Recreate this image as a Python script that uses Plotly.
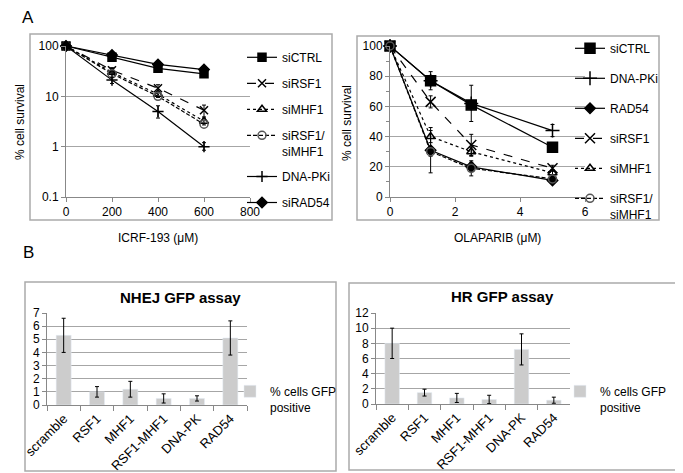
import plotly.graph_objects as go

# ICRF-193 survival (log scale)
icrf_dose = [0, 200, 400, 600]
icrf_ctrl = [100, 60, 36, 28]
icrf_rsf1 = [100, 33, 14.5, 5.3]
icrf_rsf1_err = [0, 4, 2.5, 1.4]
icrf_mhf1 = [100, 30, 11, 3.2]
icrf_mhf1_err = [0, 3, 1.5, 0.5]
icrf_rsf1_mhf1 = [100, 28, 10, 2.8]
icrf_dnapki = [100, 21, 5, 1.0]
icrf_dnapki_up = [0, 3, 1.5, 0.2]
icrf_dnapki_dn = [0, 3, 1.3, 0.15]
icrf_rad54 = [100, 66, 43, 34]

# Olaparib survival
ola_dose = [0, 1.25, 2.5, 5]
ola_ctrl = [100, 77, 61, 33]
ola_dnapki = [100, 77, 62, 44]
ola_dnapki_err = [0, 6, 12, 4]
ola_rad54 = [100, 31, 20, 11]
ola_rad54_err = [0, 15, 3, 1]
ola_rsf1 = [100, 63, 34.5, 19]
ola_rsf1_err = [0, 4, 7, 2]
ola_mhf1 = [100, 40, 30, 16]
ola_mhf1_err = [0, 4, 3, 2]
ola_rsf1_mhf1 = [100, 30, 19, 12]
ola_rsf1_mhf1_err = [0, 3, 5, 1]

# GFP reporter assays
samples = ["scramble", "RSF1", "MHF1", "RSF1-MHF1", "DNA-PK", "RAD54"]
nhej = [5.3, 1.0, 1.2, 0.5, 0.5, 5.1]
nhej_err = [1.3, 0.4, 0.6, 0.35, 0.2, 1.3]
hr = [8.0, 1.5, 0.8, 0.6, 7.2, 0.5]
hr_err = [2.0, 0.45, 0.6, 0.55, 2.05, 0.4]

# page body has an 8px margin, so the figure is drawn 8px in from the corner
OFF = 8
W, H = 683 - OFF, 473 - OFF
FONT = "Liberation Sans, Arial, sans-serif"
GRID = "#a6a6a6"


def px_x(v):
    return (v - OFF) / W


def px_y(v):
    return 1 - (v - OFF) / H


def err(vals, minus=None):
    d = dict(type="data", array=vals, color="black", thickness=1, width=2)
    if minus is not None:
        d["arrayminus"] = minus
    return d


def line(x, y, name, symbol, dash, xa, ya, leg, error=None, mcolor="black", size=8):
    return go.Scatter(
        x=x, y=y, name=name, mode="lines+markers",
        line=dict(color="black", width=1.2, dash=dash),
        marker=dict(symbol=symbol, size=size, color=mcolor,
                    line=dict(color=mcolor, width=1.5)),
        error_y=error, xaxis=xa, yaxis=ya, legend=leg, legendgroup=name + leg,
        cliponaxis=False,
    )


fig = go.Figure()

# panel A left
fig.add_trace(line(icrf_dose, icrf_ctrl, "siCTRL", "square", "solid", "x", "y", "legend"))
fig.add_trace(line(icrf_dose, icrf_rsf1, "siRSF1", "x-thin-open", "dash", "x", "y", "legend",
                   err(icrf_rsf1_err)))
fig.add_trace(line(icrf_dose, icrf_mhf1, "siMHF1", "triangle-up-open", "dot", "x", "y", "legend",
                   err(icrf_mhf1_err)))
fig.add_trace(line(icrf_dose, icrf_rsf1_mhf1, "siRSF1/<br>siMHF1", "circle-open", "4px,2px", "x", "y",
                   "legend", mcolor="#555555"))
fig.add_trace(line(icrf_dose, icrf_dnapki, "DNA-PKi", "cross-thin-open", "solid", "x", "y", "legend",
                   err(icrf_dnapki_up, icrf_dnapki_dn)))
fig.add_trace(line(icrf_dose, icrf_rad54, "siRAD54", "diamond", "solid", "x", "y", "legend"))

# panel A right
fig.add_trace(line(ola_dose, ola_ctrl, "siCTRL", "square", "solid", "x2", "y2", "legend2", size=10))
fig.add_trace(line(ola_dose, ola_dnapki, "DNA-PKi", "cross-thin-open", "solid", "x2", "y2", "legend2",
                   err(ola_dnapki_err), size=10))
fig.add_trace(line(ola_dose, ola_rad54, "RAD54", "diamond", "solid", "x2", "y2", "legend2",
                   err(ola_rad54_err)))
fig.add_trace(line(ola_dose, ola_rsf1, "siRSF1", "x-thin-open", "dash", "x2", "y2", "legend2",
                   err(ola_rsf1_err), size=10))
fig.add_trace(line(ola_dose, ola_mhf1, "siMHF1", "triangle-up-open", "dot", "x2", "y2", "legend2",
                   err(ola_mhf1_err)))
fig.add_trace(line(ola_dose, ola_rsf1_mhf1, "siRSF1/<br>siMHF1", "circle-open", "4px,2px", "x2", "y2",
                   "legend2", err(ola_rsf1_mhf1_err), mcolor="#555555"))

# panel B
fig.add_trace(go.Bar(x=samples, y=nhej, name="% cells GFP<br>positive", marker_color="#cccccc",
                     width=0.45, error_y=err(nhej_err), xaxis="x3", yaxis="y3", legend="legend3"))
fig.add_trace(go.Bar(x=samples, y=hr, name="% cells GFP<br>positive", marker_color="#cccccc",
                     width=0.45, error_y=err(hr_err), xaxis="x4", yaxis="y4", legend="legend4"))

axis_common = dict(showline=True, linecolor="#888888", linewidth=1, ticks="outside",
                   tickcolor="#888888", ticklen=4, tickfont=dict(size=12, color="black"),
                   zeroline=False, gridcolor=GRID, gridwidth=1)
leg_common = dict(xanchor="left", yanchor="top", itemwidth=30, valign="top",
                  font=dict(size=12), bgcolor="rgba(0,0,0,0)")

fig.update_layout(
    width=W, height=H, margin=dict(l=0, r=0, t=0, b=0, autoexpand=False),
    paper_bgcolor="white", plot_bgcolor="white",
    font=dict(family=FONT, size=12, color="black"),
    xaxis=dict(axis_common, domain=[px_x(66), px_x(250)], range=[0, 800], tickvals=[0, 200, 400, 600, 800],
               showgrid=False, anchor="y"),
    yaxis=dict(axis_common, domain=[px_y(197), px_y(46)], type="log", range=[-1, 2],
               tickvals=[0.1, 1, 10, 100], ticktext=["0.1", "1", "10", "100"], anchor="x"),
    xaxis2=dict(axis_common, domain=[px_x(390), px_x(585)], range=[0, 6], dtick=2,
                showgrid=False, anchor="y2"),
    yaxis2=dict(axis_common, domain=[px_y(197), px_y(46)], range=[0, 100], dtick=20, anchor="x2",
                minor=dict(dtick=10, ticks="outside", ticklen=3, tickcolor="#888888", showgrid=False)),
    xaxis3=dict(axis_common, domain=[px_x(47), px_x(247)], tickangle=-45, tickson="boundaries",
                showgrid=False, anchor="y3", ticklen=5, tickfont=dict(size=13)),
    yaxis3=dict(axis_common, domain=[px_y(405), px_y(313)], range=[0, 7], dtick=1, anchor="x3"),
    xaxis4=dict(axis_common, domain=[px_x(376), px_x(570)], tickangle=-45, tickson="boundaries",
                showgrid=False, anchor="y4", ticklen=5, tickfont=dict(size=13)),
    yaxis4=dict(axis_common, domain=[px_y(404), px_y(313)], range=[0, 12], dtick=2, anchor="x4"),
    legend=dict(leg_common, x=px_x(242), y=px_y(43), tracegroupgap=7),
    legend2=dict(leg_common, x=px_x(570), y=px_y(34), tracegroupgap=11),
    legend3=dict(leg_common, x=px_x(230), y=px_y(377)),
    legend4=dict(leg_common, x=px_x(560), y=px_y(377)),
    showlegend=True,
)

# chart borders
for x0, y0, x1, y1 in [(30, 34, 332, 220), (357, 36, 659, 220), (25, 282, 336, 471), (349, 283, 677, 470)]:
    fig.add_shape(type="rect", xref="paper", yref="paper", x0=px_x(x0), x1=px_x(x1),
                  y0=px_y(y1), y1=px_y(y0), line=dict(color="#aaaaaa", width=1.5))

labels = [
    ("A", 28, 18, 17, 0, False),
    ("B", 28, 252, 17, 0, False),
    ("% cell survival", 20, 122, 12, -90, False),
    ("ICRF-193 (μM)", 158, 238, 12, 0, False),
    ("% cell survival", 347, 123, 12, -90, False),
    ("OLAPARIB (μM)", 497, 238, 12, 0, False),
    ("NHEJ GFP assay", 180, 297, 15, 0, True),
    ("HR GFP assay", 503, 296, 15, 0, True),
]
for txt, x, y, size, ang, bold in labels:
    fig.add_annotation(text=f"<b>{txt}</b>" if bold else txt, xref="paper", yref="paper",
                       x=px_x(x), y=px_y(y), xanchor="center", yanchor="middle",
                       showarrow=False, textangle=ang,
                       font=dict(size=size, family=FONT, color="black"))

fig.write_html("out.html")
